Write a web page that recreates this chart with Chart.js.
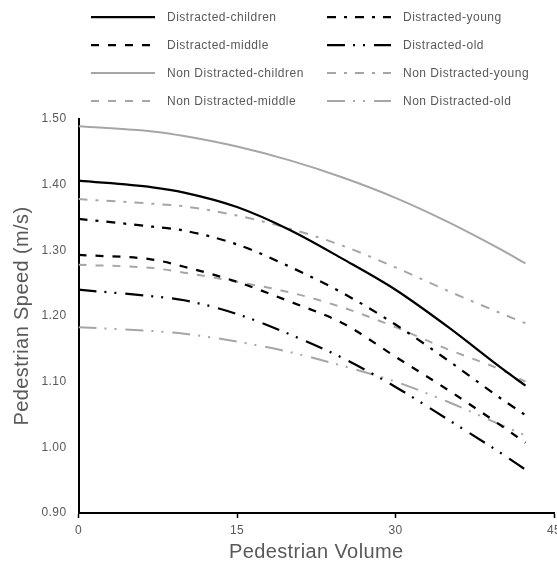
<!DOCTYPE html>
<html>
<head>
<meta charset="utf-8">
<script src="https://cdn.jsdelivr.net/npm/chart.js@4.4.1/dist/chart.umd.min.js"></script>
<style>
  html, body { margin: 0; padding: 0; background: #fff; }
  #wrap { width: 557px; height: 566px; position: relative; }
</style>
</head>
<body>
<div id="wrap"><canvas id="speedChart"></canvas></div>
<script>
// values
const volume = [0, 7, 10, 15, 20, 25, 30, 35, 40, 42.3];
const distractedChildren = [1.406, 1.396, 1.388, 1.366, 1.331, 1.287, 1.240, 1.183, 1.121, 1.094];
const distractedYoung = [1.348, 1.336, 1.330, 1.309, 1.275, 1.235, 1.187, 1.132, 1.074, 1.049];
const distractedMiddle = [1.293, 1.286, 1.275, 1.252, 1.222, 1.189, 1.138, 1.087, 1.033, 1.007];
const distractedOld = [1.240, 1.230, 1.224, 1.203, 1.172, 1.136, 1.092, 1.042, 0.991, 0.966];
const nonDistractedChildren = [1.489, 1.481, 1.474, 1.458, 1.437, 1.411, 1.380, 1.343, 1.301, 1.280];
const nonDistractedYoung = [1.378, 1.371, 1.367, 1.353, 1.333, 1.307, 1.274, 1.238, 1.204, 1.189];
const nonDistractedMiddle = [1.278, 1.273, 1.266, 1.252, 1.236, 1.213, 1.183, 1.149, 1.118, 1.100];
const nonDistractedOld = [1.183, 1.177, 1.173, 1.161, 1.145, 1.124, 1.100, 1.069, 1.034, 1.018];

const xTicks = [0, 15, 30, 45];
const yTicks = [0.9, 1.0, 1.1, 1.2, 1.3, 1.4, 1.5];

const BLACK = "#000";
const GREY = "#a6a6a6";
const TEXT = "#595959";
const FONT = "'Liberation Sans', Arial, sans-serif";

const SOLID = [];
const DASH_DOT = [9, 8, 3, 8];
const DASHED = [8, 9];
const LONG_DASH_DOT_DOT = [18, 8, 2, 8, 2, 9];

function pts(ys) {
  return volume.map((x, i) => ({ x, y: ys[i] }));
}

function series(label, ys, color, dash, width) {
  return {
    label,
    data: pts(ys),
    borderColor: color,
    borderWidth: width,
    borderDash: dash,
    borderCapStyle: "butt",
    pointRadius: 0,
    fill: false,
    cubicInterpolationMode: "monotone",
  };
}

// Excel-ish text is a bit wider than canvas default
const textSpacing = {
  id: "textSpacing",
  beforeDraw(chart) {
    chart.ctx.letterSpacing = "0.4px";
  },
};

// two-column legend above the plot (Excel style)
const gridLegend = {
  id: "gridLegend",
  afterDraw(chart) {
    const { ctx } = chart;
    const colX = [91, 327];
    const rowY = 17, rowStep = 28, lineLen = 64, textGap = 12;
    ctx.save();
    ctx.letterSpacing = "0.5px";
    ctx.font = "12px " + FONT;
    ctx.fillStyle = TEXT;
    ctx.textBaseline = "middle";
    ctx.textAlign = "left";
    chart.data.datasets.forEach((ds, i) => {
      const x = colX[i % 2];
      const y = rowY + Math.floor(i / 2) * rowStep;
      ctx.save();
      ctx.strokeStyle = ds.borderColor;
      ctx.lineWidth = ds.borderWidth;
      ctx.lineCap = "butt";
      ctx.setLineDash(ds.borderDash);
      ctx.beginPath();
      ctx.moveTo(x, y);
      ctx.lineTo(x + lineLen, y);
      ctx.stroke();
      ctx.restore();
      ctx.fillText(ds.label, x + lineLen + textGap, y + 1);
    });
    ctx.restore();
  },
};

new Chart(document.getElementById("speedChart"), {
  type: "line",
  plugins: [textSpacing, gridLegend],
  data: {
    datasets: [
      series("Distracted-children", distractedChildren, BLACK, SOLID, 2.25),
      series("Distracted-young", distractedYoung, BLACK, DASH_DOT, 2.25),
      series("Distracted-middle", distractedMiddle, BLACK, DASHED, 2.25),
      series("Distracted-old", distractedOld, BLACK, LONG_DASH_DOT_DOT, 2.25),
      series("Non Distracted-children", nonDistractedChildren, GREY, SOLID, 2),
      series("Non Distracted-young", nonDistractedYoung, GREY, DASH_DOT, 2),
      series("Non Distracted-middle", nonDistractedMiddle, GREY, DASHED, 2),
      series("Non Distracted-old", nonDistractedOld, GREY, LONG_DASH_DOT_DOT, 2),
    ],
  },
  options: {
    responsive: true,
    maintainAspectRatio: false,
    animation: false,
    devicePixelRatio: 1,
    layout: { padding: { top: 119, right: 3, left: 0, bottom: 0 } },
    plugins: {
      legend: { display: false },
      tooltip: { enabled: false },
    },
    scales: {
      x: {
        type: "linear",
        min: 0,
        max: 45,
        afterBuildTicks: (s) => { s.ticks = xTicks.map((v) => ({ value: v })); },
        afterFit: (s) => { s.height = 53; s.paddingRight = 0; },
        border: { color: BLACK, width: 2 },
        grid: { drawOnChartArea: false, color: BLACK, tickLength: 5, tickWidth: 1.5 },
        ticks: {
          color: TEXT,
          font: { family: FONT, size: 12 },
          padding: 5,
          maxRotation: 0,
          callback: (v) => String(v),
        },
        title: {
          display: true,
          text: "Pedestrian Volume",
          color: TEXT,
          font: { family: FONT, size: 20 },
          padding: { top: 4, bottom: 2 },
        },
      },
      y: {
        min: 0.9,
        max: 1.5,
        afterBuildTicks: (s) => { s.ticks = yTicks.map((v) => ({ value: v })); },
        afterFit: (s) => { s.width = 78.5; },
        border: { color: BLACK, width: 2 },
        grid: { display: false, drawTicks: false },
        ticks: {
          color: TEXT,
          font: { family: FONT, size: 12 },
          padding: 12,
          callback: (v) => Number(v).toFixed(2),
        },
        title: {
          display: true,
          text: "Pedestrian Speed (m/s)",
          color: TEXT,
          font: { family: FONT, size: 20 },
          padding: { top: 10, bottom: 0 },
        },
      },
    },
  },
});
</script>
</body>
</html>
